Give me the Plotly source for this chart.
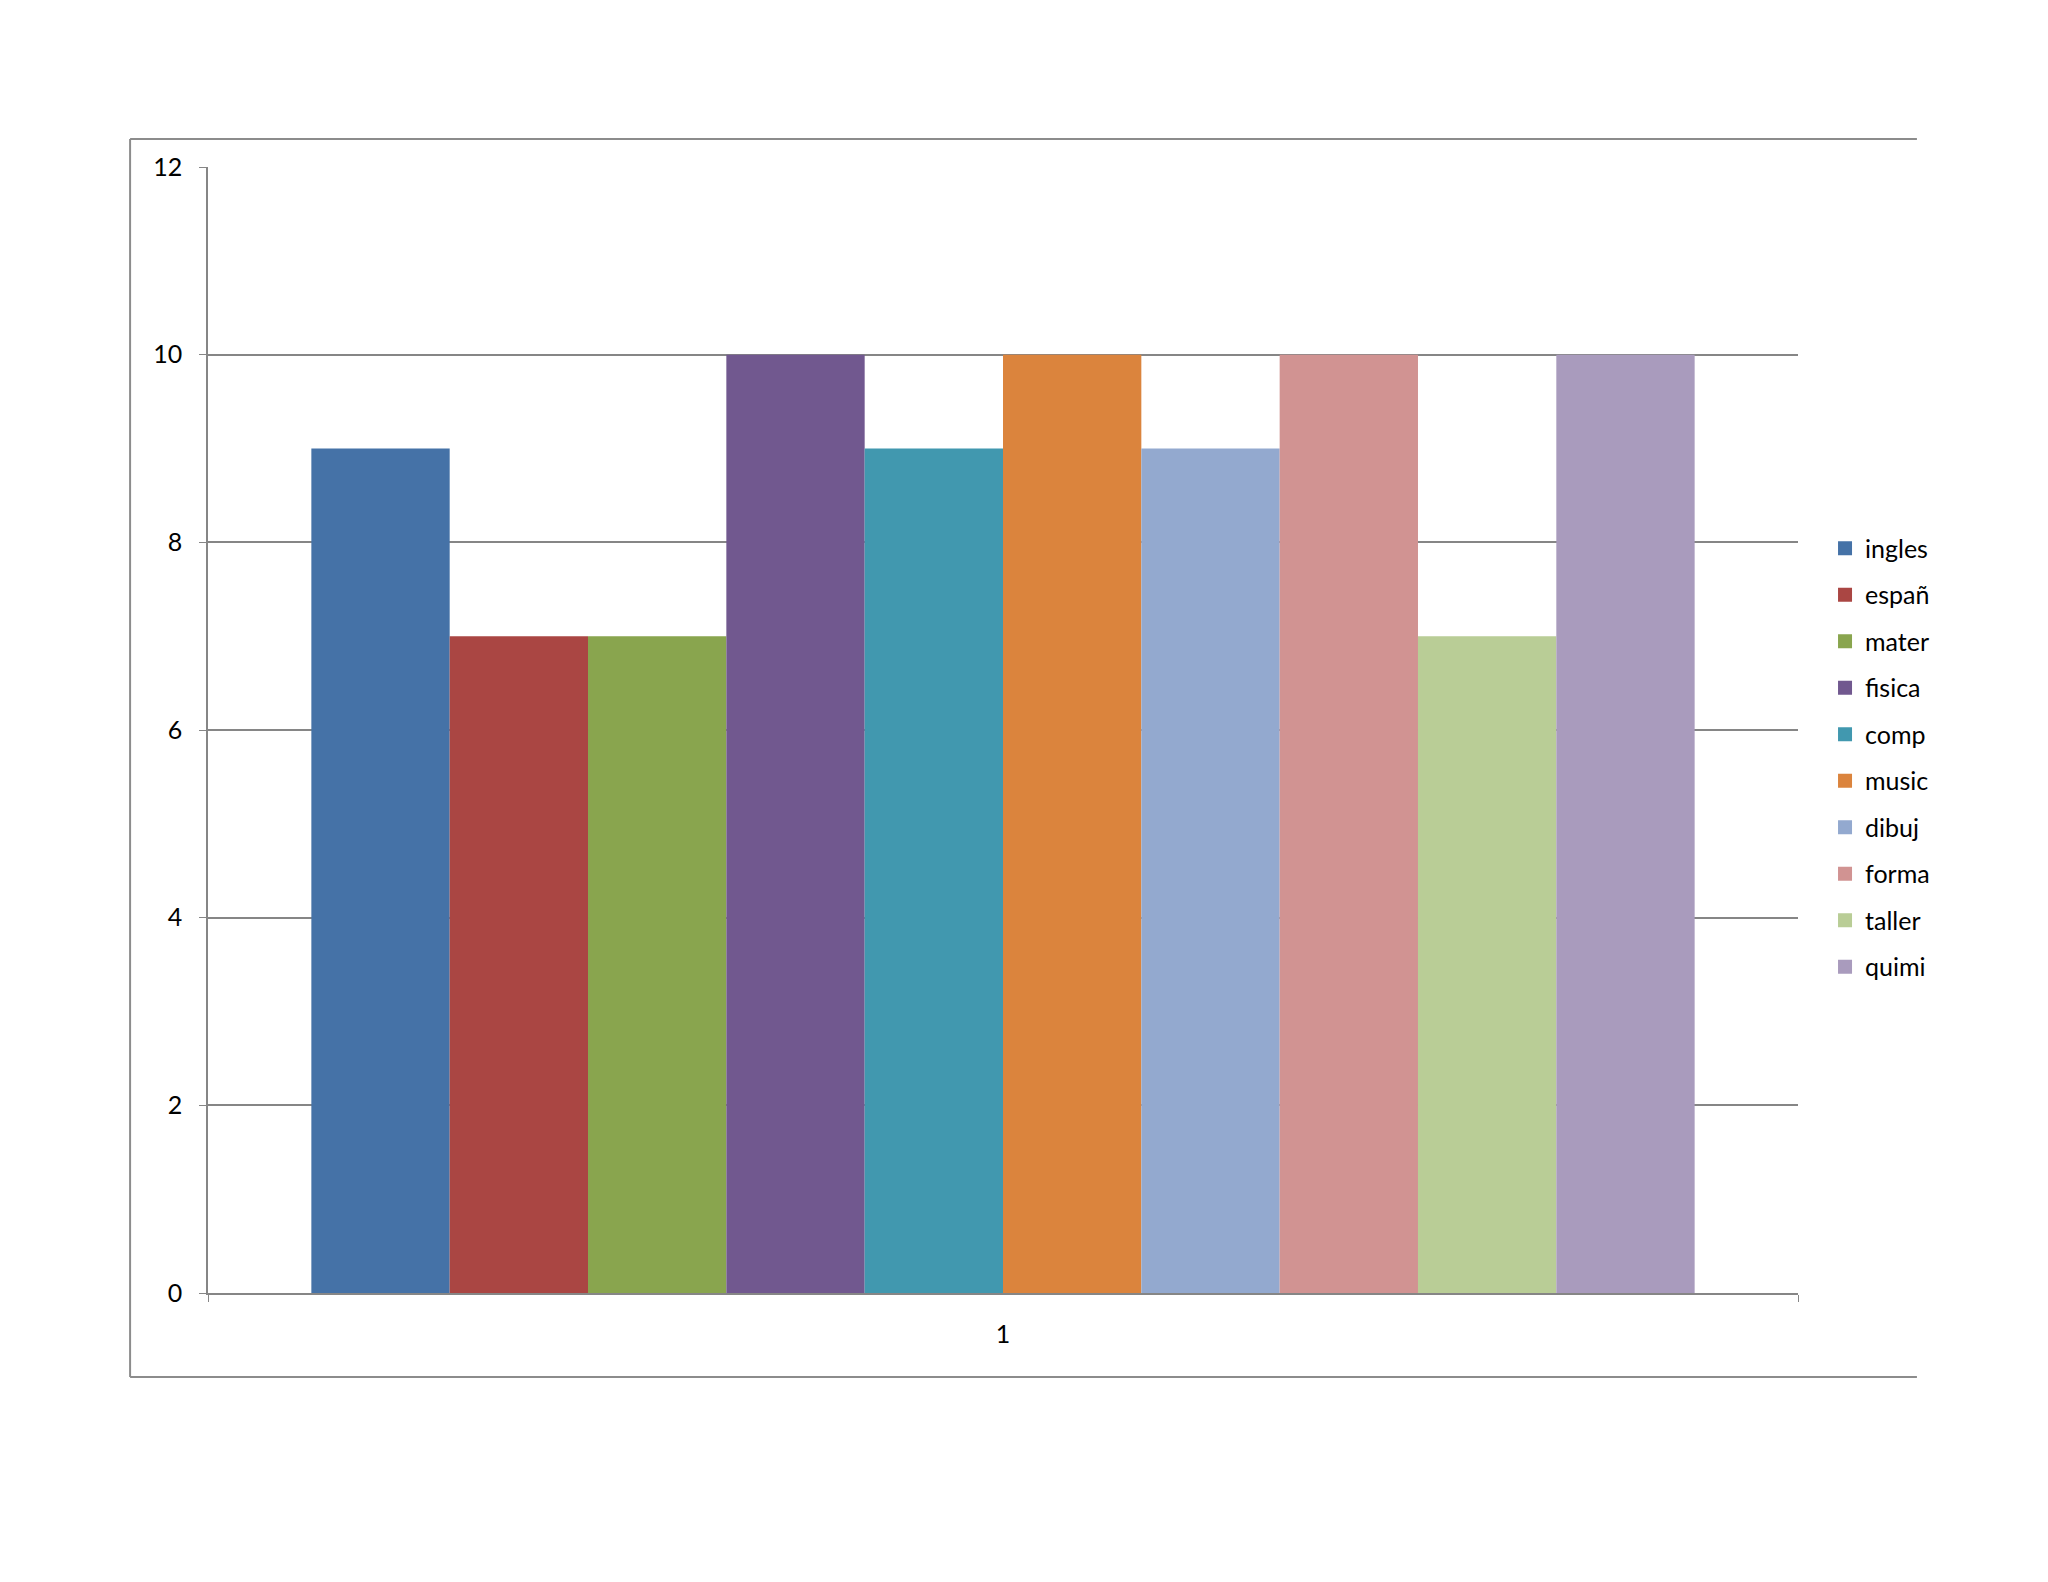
import plotly.graph_objects as go

# data
category = ["1"]
subjects = ["ingles", "españ", "mater", "fisica", "comp",
            "music", "dibuj", "forma", "taller", "quimi"]
grades = [9, 7, 7, 10, 9, 10, 9, 10, 7, 10]
colors = ["#4572A7", "#AA4643", "#89A54E", "#71588F", "#4198AF",
          "#DB843D", "#93A9CF", "#D19392", "#B9CD96", "#A99BBD"]

FONT = "Lato"
GRID = "#868686"

fig = go.Figure()
for i, (name, val, col) in enumerate(zip(subjects, grades, colors)):
    fig.add_trace(go.Bar(
        x=category, y=[val], name=name,
        marker=dict(color=col, line=dict(width=0)),
        showlegend=False,
    ))
    # legend-only entry, so the square swatch can be sized like the original
    fig.add_trace(go.Scatter(
        x=[None], y=[None], name=name, mode="markers",
        marker=dict(symbol="square", size=14, color=col),
        legendgroup="g%d" % i, showlegend=True,
    ))

fig.update_layout(
    width=2048, height=1582,
    margin=dict(l=200, r=258, t=159, b=297),
    paper_bgcolor="white", plot_bgcolor="white",
    barmode="group", bargap=0.13, bargroupgap=0,
    font=dict(family=FONT, size=25, color="#000000"),
    showlegend=True,
    legend=dict(
        x=1.017, y=0.4756, xanchor="left", yanchor="middle",
        font=dict(family=FONT, size=25, color="#000000"),
        tracegroupgap=11, bgcolor="rgba(0,0,0,0)",
        itemwidth=30,
    ),
)

fig.update_xaxes(
    type="category", showline=True, linecolor=GRID, linewidth=1.5,
    ticks="outside", tickson="boundaries", ticklen=7, tickcolor=GRID,
    showgrid=False, ticklabelstandoff=18,
)
fig.update_yaxes(
    range=[0, 12], dtick=2, tick0=0,
    showline=True, linecolor=GRID, linewidth=1.5,
    showgrid=True, gridcolor=GRID, gridwidth=1.5,
    ticks="outside", ticklen=7, tickcolor=GRID,
    zeroline=False, ticklabelstandoff=12,
)

# outer chart frame (open on the right, where it is clipped)
fx0, fx1 = -0.049, 1.0748
fy0, fy1 = -0.0746, 1.0249
for (x0, y0, x1, y1) in [(fx0, fy1, fx1, fy1), (fx0, fy0, fx0, fy1), (fx0, fy0, fx1, fy0)]:
    fig.add_shape(type="line", xref="paper", yref="paper",
                  x0=x0, y0=y0, x1=x1, y1=y1,
                  line=dict(color="#8C8C8C", width=2))

fig.write_html("out.html")
